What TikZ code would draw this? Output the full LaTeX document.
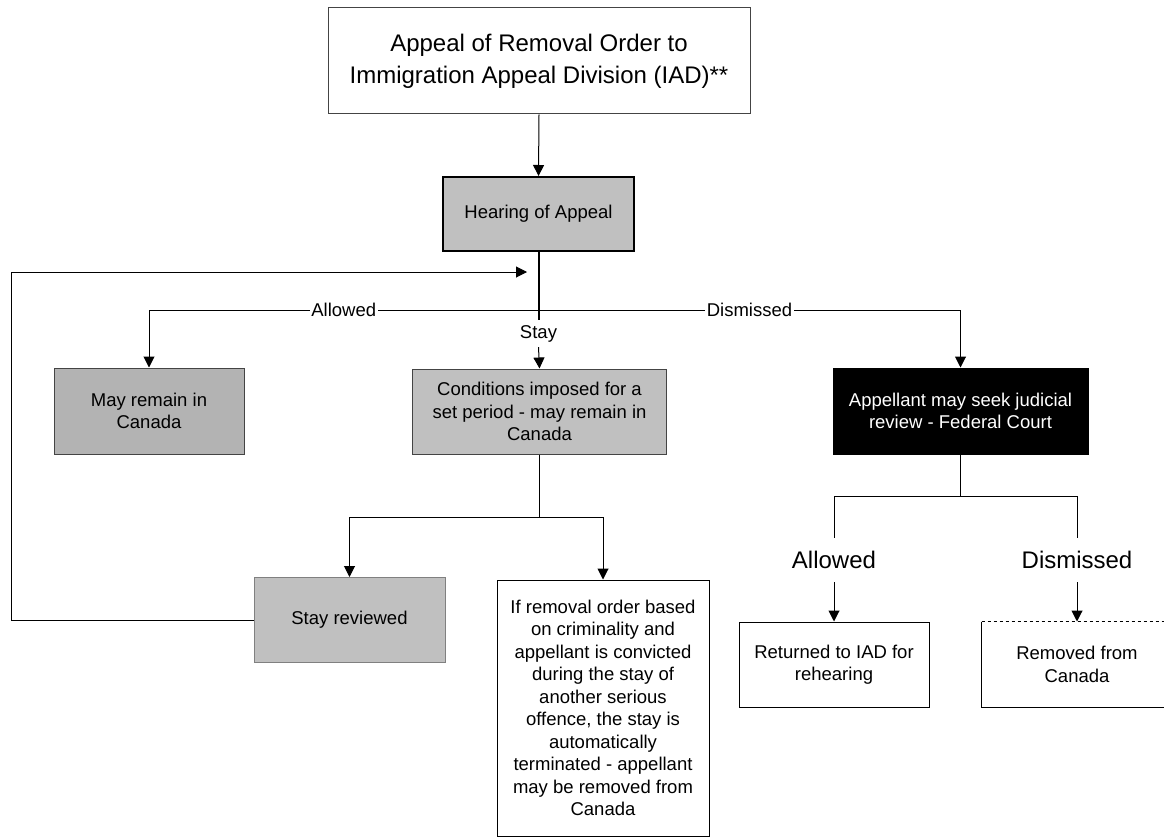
\documentclass[tikz,border=0pt]{standalone}
\usepackage{fontspec}
\setmainfont{Liberation Sans}
\usetikzlibrary{arrows.meta}
\definecolor{boxgray}{HTML}{C0C0C0}
\definecolor{darkgray}{HTML}{B3B3B3}
\definecolor{edgegray}{HTML}{444444}
\tikzset{
  boxbase/.style={rectangle, draw=edgegray, line width=1pt, inner sep=0pt, align=center,
    font=\fontsize{18.5}{22.5}\selectfont},
  arr/.style={-{Triangle[length=11pt,width=11pt]}, line width=1pt},
  conn/.style={line width=1pt},
  lbl/.style={fill=white, inner sep=1.5pt, font=\fontsize{18.5}{22.5}\selectfont},
  biglbl/.style={inner sep=0pt, minimum height=44pt, font=\fontsize{24}{28}\selectfont},
}
\begin{document}
\begin{tikzpicture}[x=1pt,y=-1pt]
\useasboundingbox (0,0) rectangle (1164,840);
\clip (0,0) rectangle (1164,840);

\node[boxbase, fill=white, draw=edgegray, minimum width=422pt, minimum height=106pt,
  font=\fontsize{24}{32}\selectfont] (top) at (539,61) {Appeal of Removal Order to\\Immigration Appeal Division (IAD)**};
\node[boxbase, fill=boxgray, draw=black, line width=2pt, minimum width=191pt, minimum height=74pt] (hear) at (538.5,214) {Hearing of Appeal};
\node[boxbase, fill=darkgray, minimum width=190pt, minimum height=86pt] (may) at (149,411) {May remain in\\Canada};
\node[boxbase, fill=boxgray, minimum width=254pt, minimum height=85pt] (cond) at (539.5,411.5) {Conditions imposed for a\\set period - may remain in\\Canada};
\node[boxbase, fill=black, text=white, draw=black, minimum width=255pt, minimum height=86pt] (jud) at (960.5,411) {Appellant may seek judicial\\review - Federal Court};
\node[boxbase, fill=boxgray, draw=gray, minimum width=191pt, minimum height=85pt] (stayrev) at (349.5,620) {Stay reviewed};
\node[boxbase, fill=white, draw=black, minimum width=212pt, minimum height=256pt] (ifbox) at (603,708) {If removal order based\\on criminality and\\appellant is convicted\\during the stay of\\another serious\\offence, the stay is\\automatically\\terminated - appellant\\may be removed from\\Canada};
\node[boxbase, fill=white, draw=black, minimum width=190pt, minimum height=85pt] (ret) at (834,664.5) {Returned to IAD for\\rehearing};
\node[boxbase, fill=white, draw=none, minimum width=190pt, minimum height=85pt] (rem) at (1077,664.5) {Removed from\\Canada};
\draw[conn, dashed] (rem.north west) -- (rem.north east);
\draw[conn] (rem.north west) -- (rem.south west) -- (rem.south east);

% top to hearing
\draw[arr] (top.south) -- (hear.north);

% hearing outcomes
\coordinate (hj) at (538.5,310);
\coordinate (hend) at (538.5,320);
\draw[line width=2pt] (hear.south) -- (hend);
\draw[arr] (hj) -- node[lbl]{Allowed} (hj -| may.north) -- (may.north);
\draw[arr] (hj) -- node[lbl]{Dismissed} (hj -| jud.north) -- (jud.north);
\node[inner sep=0pt, minimum height=26pt, font=\fontsize{18.5}{22.5}\selectfont] (stay) at (538.5,334) {Stay};
\draw[arr] (stay.south) -- (cond.north);

% conditions branches
\coordinate (cj) at (539.5,517);
\draw[conn] (cond.south) -- (cj);
\draw[arr] (cj) -| (stayrev.north);
\draw[arr] (cj) -| (ifbox.north);

% loop back
\coordinate (loopend) at (527,272);
\draw[arr] (stayrev.west) -- (11,620) |- (loopend);

% judicial review branches
\coordinate (jj) at (960.5,496);
\draw[conn] (jud.south) -- (jj);
\node[biglbl] (la) at (834,560) {Allowed};
\node[biglbl] (ld) at (1077,560) {Dismissed};
\draw[conn] (jj) -| (la.north);
\draw[conn] (jj) -| (ld.north);
\draw[arr] (la.south) -- (ret.north);
\draw[arr] (ld.south) -- (rem.north);
\end{tikzpicture}
\end{document}
